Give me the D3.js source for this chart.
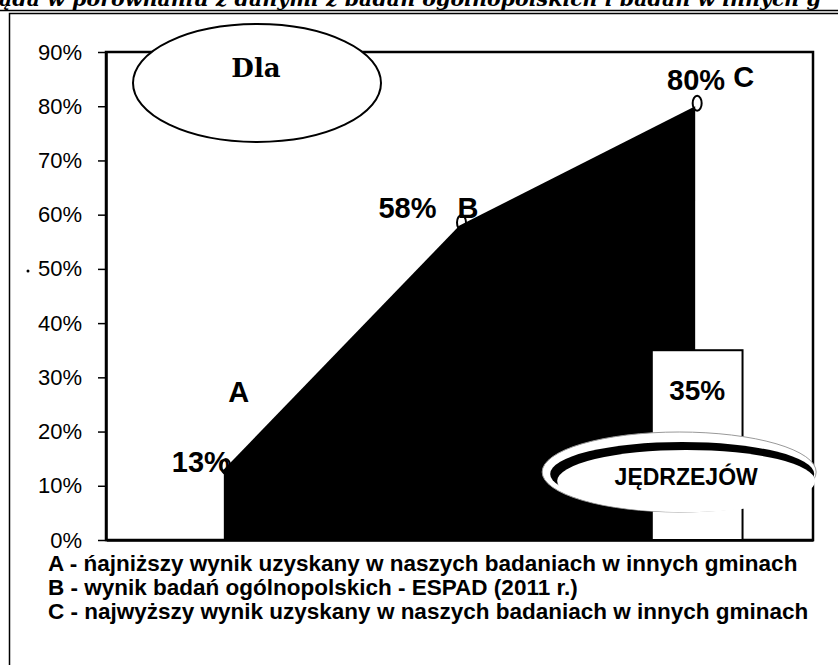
<!DOCTYPE html>
<meta charset="utf-8">
<script src="https://d3js.org/d3.v7.min.js"></script>
<style>
  body { margin: 0; background: #fff; }
  text { font-family: "Liberation Sans", Arial, sans-serif; }
</style>
<div id="my_dataviz"></div>
<script>

// data
var categories = ["A", "B", "C"];
var values = [13, 58, 80];
var valueLabels = ["13%", "58%", "80%"];
var barCategory = "C";
var barValue = 35;
var barLabel = "35%";
var barName = "JĘDRZEJÓW";
var calloutText = "Dla";
var yTicks = [0, 10, 20, 30, 40, 50, 60, 70, 80, 90];
var titleText = "ąda w porównaniu z danymi z badań ogólnopolskich i badań w innych g";
var legendLines = [
  "A - ńajniższy wynik uzyskany w naszych badaniach w innych gminach",
  "B - wynik badań ogólnopolskich - ESPAD (2011 r.)",
  "C - najwyższy wynik uzyskany w naszych badaniach w innych gminach"
];

// label placement relative to each point (dx, dy)
var valueOffsets = [[6, 2], [-23, -8], [30, -16]];
var letterOffsets = [[15, -68, "middle"], [-2, -8, "start"], [38, -19, "start"]];

var W = 838, H = 665;
var margin = {top: 52, right: 25, bottom: 125, left: 106};
var plotW = W - margin.left - margin.right,
    plotH = H - margin.top - margin.bottom;

var svg = d3.select("#my_dataviz")
  .append("svg")
    .attr("width", W)
    .attr("height", H);

// outer frame + clipped title
svg.append("text")
  .attr("x", -1).attr("y", 6)
  .attr("textLength", 822).attr("lengthAdjust", "spacingAndGlyphs")
  .style("font-family", "'DejaVu Serif', serif")
  .style("font-style", "italic").style("font-weight", "bold")
  .style("font-size", "21px")
  .text(titleText);
svg.append("line").attr("x1", 0).attr("x2", W).attr("y1", 10.5).attr("y2", 10.5)
  .attr("stroke", "#000").attr("stroke-width", 1.5);
svg.append("path")
  .attr("d", "M9.5," + H + "V13.5H" + W)
  .attr("fill", "none").attr("stroke", "#000").attr("stroke-width", 1.5);

var g = svg.append("g")
  .attr("transform", "translate(" + margin.left + "," + margin.top + ")");

var x = d3.scalePoint()
  .domain(categories)
  .range([0, plotW])
  .padding(0.5);

var y = d3.scaleLinear()
  .domain([0, 90])
  .range([plotH, 0]);

// plot frame
g.append("rect")
  .attr("x", 0).attr("y", 0)
  .attr("width", plotW).attr("height", plotH)
  .attr("fill", "#fff")
  .attr("stroke", "#000").attr("stroke-width", 2.5);

// area
var data = categories.map(function(c, i) { return {cat: c, v: values[i]}; });
var area = d3.area()
  .x(function(d) { return x(d.cat); })
  .y0(y(0))
  .y1(function(d) { return y(d.v); });

// markers (behind the fill)
g.selectAll(".marker")
  .data(data)
  .enter()
  .append("ellipse")
    .attr("cx", function(d) { return x(d.cat) + 2; })
    .attr("cy", function(d) { return y(d.v) - 3; })
    .attr("rx", 4.5).attr("ry", 7.5)
    .attr("fill", "#fff").attr("stroke", "#000").attr("stroke-width", 2);

g.append("path")
  .datum(data)
  .attr("d", area)
  .attr("fill", "#000");

// Jedrzejow bar
var barW = x.step() * 0.385;
g.append("rect")
  .attr("x", x(barCategory) + 2 - barW / 2)
  .attr("y", y(barValue))
  .attr("width", barW)
  .attr("height", y(0) - y(barValue))
  .attr("fill", "#fff")
  .attr("stroke", "#000").attr("stroke-width", 2);

g.append("text")
  .attr("x", x(barCategory) + 2)
  .attr("y", y(barValue) + 50)
  .attr("text-anchor", "middle")
  .style("font-size", "28px").style("font-weight", "bold")
  .text(barLabel);

// value labels
g.selectAll(".vlab")
  .data(data)
  .enter()
  .append("text")
    .attr("x", function(d, i) { return x(d.cat) + valueOffsets[i][0]; })
    .attr("y", function(d, i) { return y(d.v) + valueOffsets[i][1]; })
    .attr("text-anchor", "end")
    .style("font-size", "29px").style("font-weight", "bold")
    .text(function(d, i) { return valueLabels[i]; });

// category letters
g.selectAll(".clab")
  .data(data)
  .enter()
  .append("text")
    .attr("x", function(d, i) { return x(d.cat) + letterOffsets[i][0]; })
    .attr("y", function(d, i) { return y(d.v) + letterOffsets[i][1]; })
    .attr("text-anchor", function(d, i) { return letterOffsets[i][2]; })
    .style("font-size", "29px").style("font-weight", "bold")
    .text(function(d) { return d.cat; });

// "Dla" callout
g.append("ellipse")
  .attr("cx", 151).attr("cy", 31)
  .attr("rx", 124).attr("ry", 59)
  .attr("fill", "#fff").attr("stroke", "#000").attr("stroke-width", 2);
g.append("text")
  .attr("x", 150).attr("y", 25)
  .attr("text-anchor", "middle")
  .style("font-family", "'DejaVu Serif', serif")
  .style("font-weight", "bold").style("font-size", "26px")
  .text(calloutText);

// Jedrzejow name badge
var bx = x(barCategory) - 16;
g.append("ellipse")
  .attr("cx", bx).attr("cy", 420).attr("rx", 137).attr("ry", 40)
  .attr("fill", "#fff").attr("stroke", "#999").attr("stroke-width", 1);
g.append("ellipse")
  .attr("cx", bx + 3).attr("cy", 422).attr("rx", 132).attr("ry", 32)
  .attr("fill", "#000");
g.append("ellipse")
  .attr("cx", bx + 7).attr("cy", 429).attr("rx", 129).attr("ry", 31)
  .attr("fill", "#fff");
g.append("text")
  .attr("x", bx + 7).attr("y", 433)
  .attr("text-anchor", "middle")
  .style("font-size", "23px").style("font-weight", "bold")
  .text(barName);

// axes
var yAxis = g.append("g")
  .call(d3.axisLeft(y)
    .tickValues(yTicks)
    .tickFormat(function(d) { return d + "%"; })
    .tickSize(8)
    .tickPadding(16)
    .tickSizeOuter(0));
yAxis.select(".domain").attr("stroke-width", 2.5);
yAxis.selectAll(".tick line").attr("stroke-width", 1.5);
yAxis.selectAll(".tick text")
  .style("font-family", "'Liberation Sans', Arial, sans-serif")
  .style("font-size", "22px").attr("fill", "#000");

var xAxis = g.append("g")
  .attr("transform", "translate(0," + plotH + ")")
  .call(d3.axisBottom(x).tickValues([]).tickSizeOuter(0));
xAxis.select(".domain").attr("stroke-width", 2.5);

// stray scan dot by 50%
svg.append("circle").attr("cx", 28).attr("cy", margin.top + y(50) + 2).attr("r", 1.5).attr("fill", "#000");

// legend
svg.selectAll(".legend")
  .data(legendLines)
  .enter()
  .append("text")
    .attr("x", 48)
    .attr("y", function(d, i) { return 571 + i * 24; })
    .style("font-size", "22.5px").style("font-weight", "bold")
    .text(function(d) { return d; });

</script>
